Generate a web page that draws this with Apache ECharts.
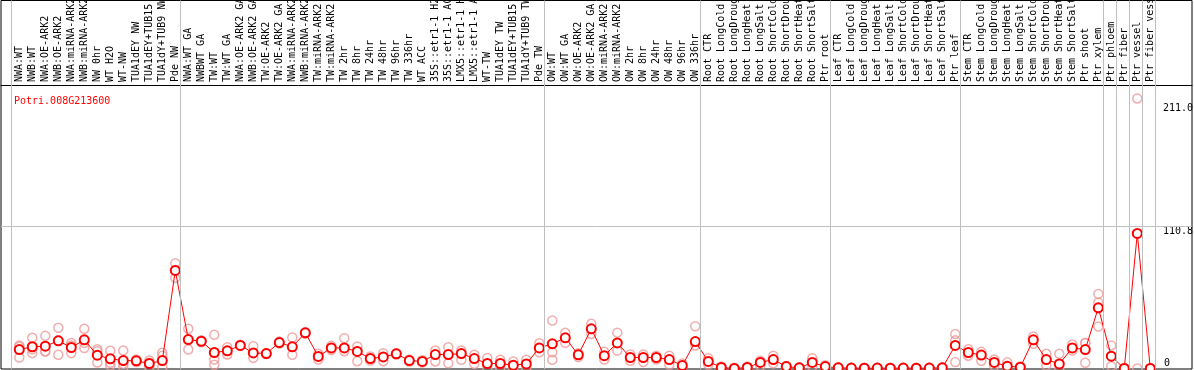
<!DOCTYPE html>
<html><head><meta charset="utf-8">
<script src="https://cdn.jsdelivr.net/npm/echarts@6/dist/echarts.min.js"></script>
<style>html,body{margin:0;padding:0;background:#fff}#c{width:1194px;height:370px}</style>
</head><body><div id="c"></div>
<script>
const geneName = 'Potri.008G213600';
const categories = ['NWA:WT','NWB:WT','NWA:OE-ARK2','NWB:OE-ARK2','NWA:miRNA-ARK2','NWB:miRNA-ARK2','NW 0hr','WT H2O','WT-NW','TUA1dEY NW','TUA1dEY+TUB15 NW','TUA1dY+TUB9 NW','Pde NW',
'NWA:WT GA','NWBWT GA','TW:WT','TW:WT GA','NWA:OE-ARK2 GA','NWB:OE-ARK2 GA','TW:OE-ARK2','TW:OE-ARK2 GA','NWA:miRNA-ARK2 GA','NWB:miRNA-ARK2 GA','TW:miRNA-ARK2','TW:miRNA-ARK2 GA','TW 2hr','TW 8hr','TW 24hr','TW 48hr','TW 96hr','TW 336hr','WT ACC','35S::etr1-1 H2O','35S::etr1-1 ACC','LMX5::etr1-1 H2O','LMX5::etr1-1 ACC','WT-TW','TUA1dEY TW','TUA1dEY+TUB15 TW','TUA1dY+TUB9 TW','Pde TW',
'OW:WT','OW:WT GA','OW:OE-ARK2','OW:OE-ARK2 GA','OW:miRNA-ARK2','OW:miRNA-ARK2 GA','OW 2hr','OW 8hr','OW 24hr','OW 48hr','OW 96hr','OW 336hr',
'Root CTR','Root LongCold','Root LongDrought','Root LongHeat','Root LongSalt','Root ShortCold','Root ShortDrought','Root ShortHeat','Root ShortSalt','Ptr root',
'Leaf CTR','Leaf LongCold','Leaf LongDrought','Leaf LongHeat','Leaf LongSalt','Leaf ShortCold','Leaf ShortDrought','Leaf ShortHeat','Leaf ShortSalt','Ptr leaf',
'Stem CTR','Stem LongCold','Stem LongDrought','Stem LongHeat','Stem LongSalt','Stem ShortCold','Stem ShortDrought','Stem ShortHeat','Stem ShortSalt','Ptr shoot',
'Ptr xylem','Ptr phloem','Ptr fiber','Ptr vessel','Ptr fiber vessel'];
const means = [14.8,17,17.4,21.6,16.4,22.4,10.4,7.6,6.2,6,3.9,6.2,76.6,
22.6,21.3,12.5,13.8,18,12.2,11.7,20.3,16.9,27.9,9.4,16.1,16.1,13.3,7.8,9,11.5,6.2,5.5,10.9,10.9,11.7,7.8,3.9,3.9,2.6,3.6,16.1,
19.3,24,10.7,31,10,20,8.6,8.6,8.6,7,2.3,21,
5.5,0.8,0,0.8,4.7,7,1.5,0.5,4.7,1.5,
0.5,0.3,0.2,0.3,0.2,0.3,0.2,0.3,0.5,18,
12.5,10.5,4.7,1.8,1,22.4,7,3.6,16.1,14.8,
47.4,9.6,0,105.5,0];
const replicates = [[18,8.6,17],[24,12,15],[25.5,13.3,13.5],[31.8,10.7,22],[20,12,18],[31,16,20],[15,13.5,4.7],[13.8,4.5,2.3],[14,3.6,1],[7,5],[6.2,1,4.5],[12.3,10,1],[82.3,70.8,77],
[31,14.8],[22,20.5],[26.3,7,2.9],[16.6,11],[18.5,17.5],[17.4,8.3],[12,11.3],[21,19.6],[24.2,10.7],[28.4,27.4],[11.5,7],[17.7,14.5],[23.7,13.5],[17.2,5.7],[9.4,6.2],[12,5.7],[12,11],[7,5.5],[6.5,4.7],[14,5.5],[16.6,4.1],[14,6.8],[10.7,3.6],[8.3,0],[6.8,0.3],[5.5,0],[6.8,0.3],[19.8,12.7],
[37.5,12.7,6.8],[27.9,20],[12,9],[35,27],[13,7],[28,14],[11,6],[11,5],[10,7],[10,3],[4,0.5],[33,18],
[8,3],[1.5,0],[0.5,0],[1.5,0],[6,2],[10,4],[2,0.5],[1,0],[8,1.5],[2.5,0.5],
[1,0],[0.5,0],[0.5,0],[0.5,0],[0.5,0],[0.5,0],[0.5,0],[0.5,0],[1,0],[27,22,5],
[15,10],[13,6],[7,2],[4.8,1],[1.5,0.5],[25,19.3],[11.5,2.3],[11.5,0],[18.7,14],[20,4.5,20],
[58.3,51.6,32.8],[18,1.8],[0.5,0],[211,0],[0.3,0]];
const yTickValues = [0, 110.8, 211.0];
const groupStarts = [0, 13, 41, 53, 63, 73, 84, 85, 86, 87, 88];

const FONT = 'DejaVu Sans Mono';
const xMin = -1.4077, xMax = 90.208;
const yMax = 221.5;
const repPoints = [];
replicates.forEach((r, i) => r.forEach(v => repPoints.push([i, v])));
const meanPoints = means.map((v, i) => [i, v]);
const topTick = Math.max(...yTickValues);

const chart = echarts.init(document.getElementById('c'), null, {renderer: 'canvas'});
chart.setOption({
  animation: false,
  backgroundColor: '#fff',
  title: {text: geneName, left: 9, top: 91, textStyle: {color: '#ff0000', fontFamily: FONT, fontSize: 10, fontWeight: 'normal'}},
  grid: [
    {left: 1, right: 2, top: 85, bottom: 1.5, containLabel: false, outerBoundsMode: 'none'},
    {left: 1, right: 2, top: 0.5, bottom: 1, show: true, borderColor: '#000', borderWidth: 1, backgroundColor: 'transparent', z: 0, containLabel: false, outerBoundsMode: 'none'}
  ],
  xAxis: [
    {type: 'value', gridIndex: 0, position: 'top', min: xMin, max: xMax,
     axisLine: {show: true, onZero: false, lineStyle: {color: '#000', width: 1}}, axisTick: {show: false}, splitLine: {show: false},
     axisLabel: {show: true, customValues: categories.map((_, i) => i), formatter: v => categories[Math.round(v)] || '',
       rotate: -90, margin: 3, fontFamily: FONT, fontSize: 10, color: '#000', hideOverlap: false}},
    {type: 'value', gridIndex: 1, min: xMin, max: xMax, show: false}
  ],
  yAxis: [
    {type: 'value', gridIndex: 0, position: 'right', min: 0, max: yMax,
     axisLine: {show: false}, axisTick: {show: false}, splitLine: {show: false},
     axisLabel: {inside: true, customValues: yTickValues.filter(v => v > 0),
       formatter: v => (v === topTick ? '{t|' : '{m|') + v.toFixed(1) + '}',
       rich: {t: {padding: [5, 0, 0, 0], fontFamily: FONT, fontSize: 10, color: '#000'}, m: {fontFamily: FONT, fontSize: 10, color: '#000'}},
       align: 'left', verticalAlign: 'top', margin: 29, fontFamily: FONT, fontSize: 10, color: '#000'}},
    {type: 'value', gridIndex: 0, position: 'right', min: 0, max: yMax,
     axisLine: {show: false}, axisTick: {show: false}, splitLine: {show: false},
     axisLabel: {inside: true, customValues: yTickValues.filter(v => v === 0), formatter: v => String(v), align: 'left', verticalAlign: 'bottom',
       margin: 28, fontFamily: FONT, fontSize: 10, color: '#000'}},
    {type: 'value', gridIndex: 1, min: 0, max: 1, show: false}
  ],
  series: [
    {type: 'line', xAxisIndex: 1, yAxisIndex: 2, data: [], z: 1, silent: true,
     markLine: {silent: true, symbol: 'none', label: {show: false}, lineStyle: {color: '#c0c0c0', width: 1, type: 'solid'},
       data: groupStarts.map(s => ({xAxis: s - 0.65}))}},
    {type: 'line', xAxisIndex: 0, yAxisIndex: 0, data: [], z: 1, silent: true,
     markLine: {silent: true, symbol: 'none', label: {show: false}, lineStyle: {color: '#c0c0c0', width: 1, type: 'solid'},
       data: [{yAxis: yTickValues[1]}]}},
    {type: 'scatter', xAxisIndex: 0, yAxisIndex: 0, data: repPoints, symbol: 'circle', symbolSize: 9, z: 3,
     itemStyle: {color: 'rgba(0,0,0,0)', borderColor: '#ee9a9a', borderWidth: 1.5}},
    {type: 'line', xAxisIndex: 0, yAxisIndex: 0, data: meanPoints, symbol: 'emptyCircle', symbolSize: 9, z: 4,
     itemStyle: {color: '#ff0000', borderColor: '#ff0000', borderWidth: 1.8},
     lineStyle: {color: '#ff0000', width: 1}}
  ]
});
</script></body></html>
